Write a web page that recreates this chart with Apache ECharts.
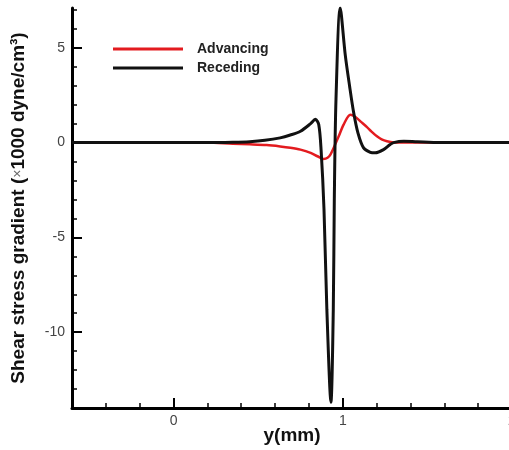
<!DOCTYPE html>
<html>
<head>
<meta charset="utf-8">
<script src="https://cdn.jsdelivr.net/npm/echarts@6/dist/echarts.min.js"></script>
<style>
  html, body { margin: 0; padding: 0; background: #fff; }
  #chart { width: 509px; height: 450px; }
</style>
</head>
<body>
<div id="chart"></div>
<script>
// Shear stress gradient profiles across y (mm), in units of 1000 dyne/cm^3
const advancingX = [-0.6, 0.2, 0.35, 0.45, 0.55, 0.63, 0.69, 0.75, 0.81, 0.85, 0.887, 0.91, 0.927, 0.946, 0.976, 1.005, 1.045, 1.075, 1.11, 1.143, 1.17, 1.202, 1.23, 1.261, 1.3, 1.4, 2.0];
const advancingY = [0, 0, -0.06, -0.09, -0.13, -0.2, -0.27, -0.37, -0.54, -0.72, -0.86, -0.8, -0.63, -0.28, 0.33, 0.95, 1.47, 1.35, 1.08, 0.82, 0.58, 0.33, 0.17, 0.07, 0.01, 0, 0];

const recedingX = [-0.6, 0.2, 0.35, 0.45, 0.54, 0.63, 0.69, 0.75, 0.81, 0.838, 0.858, 0.872, 0.889, 0.906, 0.930, 0.944, 0.950, 0.960, 0.985, 1.015, 1.04, 1.064, 1.09, 1.123, 1.163, 1.192, 1.241, 1.28, 1.30, 1.36, 1.44, 1.575, 2.0];
const recedingY = [0, 0, 0.02, 0.05, 0.12, 0.25, 0.4, 0.6, 1.0, 1.23, 0.95, -0.4, -3.5, -8.8, -13.7, -8.8, -3.0, 2.3, 7.1, 4.6, 3.0, 1.6, 0.5, -0.28, -0.51, -0.54, -0.37, -0.1, 0.0, 0.07, 0.04, 0, 0];

const xMajorTicks = [0, 1, 2];
const xMinorTicks = [-0.6, -0.4, -0.2, 0.2, 0.4, 0.6, 0.8, 1.2, 1.4, 1.6, 1.8];
const yMajorTicks = [-10, -5, 0, 5];
const yMinorTicks = [-14, -13, -12, -11, -9, -8, -7, -6, -4, -3, -2, -1, 1, 2, 3, 4, 6, 7];

const seriesNames = ['Advancing', 'Receding'];

const pairs = (xs, ys) => xs.map((x, i) => [x, ys[i]]);
const FONT = "'Liberation Sans', Arial, sans-serif";

const xRange = { min: -0.6, max: 2 };
const yRange = { min: -14, max: 7.1 };

const chart = echarts.init(document.getElementById('chart'), null, { renderer: 'canvas' });

const baseAxis = {
  type: 'value',
  splitLine: { show: false },
  axisLine: { show: true, onZero: false, lineStyle: { color: '#000', width: 3 } }
};
const hiddenLine = { show: false, onZero: false };

chart.setOption({
  animation: false,
  backgroundColor: '#fff',
  grid: { left: 72, right: -3, top: 8, bottom: 42, containLabel: false, outerBoundsMode: 'none' },
  legend: {
    data: seriesNames,
    orient: 'vertical',
    left: 108,
    top: 36,
    icon: 'rect',
    itemWidth: 70,
    itemHeight: 3,
    itemGap: 3,
    textStyle: {
      fontFamily: FONT, fontSize: 14, fontWeight: 'bold', color: '#222',
      lineHeight: 16, padding: [0, 0, 0, 9]
    }
  },
  xAxis: [
    Object.assign({}, baseAxis, {
      position: 'bottom',
      min: xRange.min, max: xRange.max,
      name: 'y(mm)',
      nameLocation: 'middle',
      nameGap: 18,
      nameMoveOverlap: false,
      nameTextStyle: { fontFamily: FONT, fontSize: 19, fontWeight: 'bold', color: '#111' },
      axisTick: { show: true, inside: true, length: 10, customValues: xMajorTicks, lineStyle: { color: '#000', width: 2 } },
      axisLabel: { customValues: xMajorTicks, margin: 6, fontFamily: FONT, fontSize: 14, color: '#444' }
    }),
    Object.assign({}, baseAxis, {
      position: 'bottom',
      min: xRange.min, max: xRange.max,
      axisLine: hiddenLine,
      axisTick: { show: true, inside: true, length: 5, customValues: xMinorTicks, lineStyle: { color: '#000', width: 1.5 } },
      axisLabel: { show: false }
    })
  ],
  yAxis: [
    Object.assign({}, baseAxis, {
      position: 'left',
      min: yRange.min, max: yRange.max,
      name: '{t|Shear stress gradient (}{x|×}{t|1000 dyne/cm³)}',
      nameLocation: 'middle',
      nameGap: 44,
      nameMoveOverlap: false,
      nameTextStyle: {
        rich: {
          t: { fontFamily: FONT, fontSize: 19, fontWeight: 'bold', color: '#111' },
          x: { fontFamily: FONT, fontSize: 14, fontWeight: 'normal', color: '#666' }
        }
      },
      axisTick: { show: true, inside: true, length: 10, customValues: yMajorTicks, lineStyle: { color: '#000', width: 2 } },
      axisLabel: { customValues: yMajorTicks, margin: 7, fontFamily: FONT, fontSize: 14, color: '#444' }
    }),
    Object.assign({}, baseAxis, {
      position: 'left',
      min: yRange.min, max: yRange.max,
      axisLine: hiddenLine,
      axisTick: { show: true, inside: true, length: 5, customValues: yMinorTicks, lineStyle: { color: '#000', width: 1.5 } },
      axisLabel: { show: false }
    })
  ],
  series: [
    {
      name: seriesNames[0],
      type: 'line',
      xAxisIndex: 0, yAxisIndex: 0,
      data: pairs(advancingX, advancingY),
      showSymbol: false,
      smooth: 0.3,
      color: '#e31b1f',
      lineStyle: { color: '#e31b1f', width: 2.5 }
    },
    {
      name: seriesNames[1],
      type: 'line',
      xAxisIndex: 0, yAxisIndex: 0,
      data: pairs(recedingX, recedingY),
      showSymbol: false,
      smooth: 0.3,
      color: '#111',
      lineStyle: { color: '#111', width: 3 }
    }
  ]
});
</script>
</body>
</html>
